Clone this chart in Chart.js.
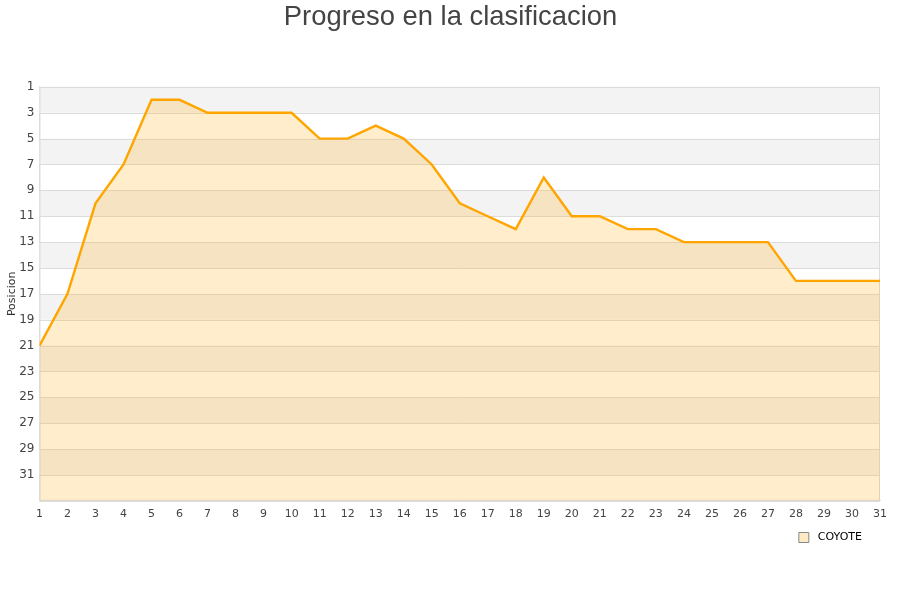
<!DOCTYPE html>
<html>
<head>
<meta charset="utf-8">
<script src="https://cdn.jsdelivr.net/npm/chart.js@4"></script>
<style>
  html, body { margin: 0; padding: 0; background: #fff; }
  #wrap { width: 900px; height: 600px; }
</style>
</head>
<body>
<div id="wrap"><canvas id="chart" width="900" height="600"></canvas></div>
<script>
const jornadas = [1, 2, 3, 4, 5, 6, 7, 8, 9, 10, 11, 12, 13, 14, 15, 16,
  17, 18, 19, 20, 21, 22, 23, 24, 25, 26, 27, 28, 29, 30, 31];
const posiciones = [21, 17, 10, 7, 2, 2, 3, 3, 3, 3, 5, 5, 4, 5, 7, 10,
  11, 12, 8, 11, 11, 12, 12, 13, 13, 13, 13, 16, 16, 16, 16];
const equipo = 'COYOTE';
const posMin = 1;
const posMax = 33;

// alternating grey bands behind the data, one per y tick step
const bandsPlugin = {
  id: 'bands',
  beforeDatasetsDraw(chart) {
    const { ctx, chartArea, scales } = chart;
    const y = scales.y;
    ctx.save();
    ctx.fillStyle = '#f3f3f3';
    for (let v = posMin, i = 0; v < posMax; v += 2, i++) {
      if (i % 2 !== 0) continue;
      const a = y.getPixelForValue(v);
      const b = y.getPixelForValue(v + 2);
      ctx.fillRect(chartArea.left, Math.min(a, b), chartArea.right - chartArea.left, Math.abs(b - a));
    }
    // grid lines over the bands
    ctx.strokeStyle = '#dcdcdc';
    ctx.lineWidth = 1;
    y.ticks.forEach(t => {
      const p = Math.round(y.getPixelForValue(t.value)) + 0.5;
      ctx.beginPath();
      ctx.moveTo(chartArea.left, p);
      ctx.lineTo(chartArea.right, p);
      ctx.stroke();
    });
    ctx.strokeRect(chartArea.left + 0.5, chartArea.top + 0.5,
      chartArea.right - chartArea.left - 1, chartArea.bottom - chartArea.top - 1);
    ctx.restore();
  }
};

new Chart(document.getElementById('chart'), {
  type: 'line',
  data: {
    labels: jornadas,
    datasets: [{
      label: equipo,
      data: jornadas.map((j, i) => ({ x: j, y: posiciones[i] })),
      borderColor: '#ffa500',
      backgroundColor: 'rgba(255,165,0,0.2)',
      borderWidth: 2.4,
      pointRadius: 0,
      tension: 0,
      fill: 'start'
    }]
  },
  options: {
    responsive: false,
    animation: false,
    layout: { padding: { left: 1, right: 0, top: 0, bottom: 47 } },
    plugins: {
      title: {
        display: true,
        text: 'Progreso en la clasificacion',
        color: '#444',
        font: { family: 'Liberation Sans', size: 27.4, weight: 'normal' },
        padding: { top: 1, bottom: 53 }
      },
      legend: {
        position: 'bottom',
        align: 'end',
        fullSize: false,
        labels: {
          color: '#222',
          font: { family: 'DejaVu Sans', size: 11 },
          boxWidth: 10,
          boxHeight: 10,
          padding: 4,
          generateLabels: chart => [{
            text: ' ' + equipo + '    ',
            fillStyle: '#fde9c4',
            strokeStyle: '#888',
            lineWidth: 1,
            datasetIndex: 0
          }]
        }
      },
      tooltip: { enabled: false }
    },
    scales: {
      x: {
        type: 'linear',
        min: 1,
        max: 31,
        grid: { display: true, drawOnChartArea: false, drawTicks: false },
        border: { color: '#dcdcdc' },
        ticks: {
          stepSize: 1,
          color: '#444',
          font: { family: 'DejaVu Sans', size: 11 },
          maxRotation: 0,
          padding: 7
        }
      },
      y: {
        reverse: true,
        min: posMin,
        max: posMax,
        title: {
          display: true,
          text: 'Posicion',
          color: '#333',
          font: { family: 'DejaVu Sans', size: 11 },
          padding: { top: 5, bottom: -5 }
        },
        grid: { display: true, drawOnChartArea: false, drawTicks: false },
        border: { color: '#dcdcdc' },
        ticks: {
          stepSize: 2,
          color: '#444',
          font: { family: 'DejaVu Sans', size: 12 },
          padding: 5,
          callback: v => (v === posMax ? '' : v)
        }
      },
      // empty right-hand axis that just keeps a 20px margin
      yPad: {
        position: 'right',
        grid: { display: false },
        border: { display: false },
        ticks: { display: false },
        afterFit: s => { s.width = 20; }
      }
    }
  },
  plugins: [bandsPlugin]
});
</script>
</body>
</html>
